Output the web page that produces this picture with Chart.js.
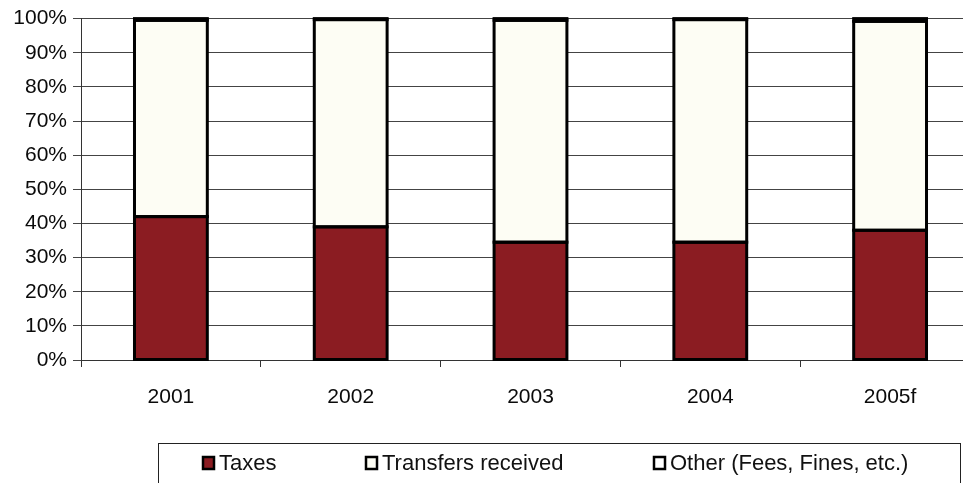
<!DOCTYPE html>
<html>
<head>
<meta charset="utf-8">
<script src="https://cdn.jsdelivr.net/npm/chart.js@4/dist/chart.umd.min.js"></script>
<style>
	html, body { margin: 0; padding: 0; background: #fff; overflow: hidden; }
	#wrap { width: 980px; height: 483px; }
</style>
</head>
<body>
<div id="wrap"><canvas id="chart" width="980" height="483"></canvas></div>
<script>
// revenue structure, share of total (%)
const years = ["2001", "2002", "2003", "2004", "2005f"];
const taxes = [42, 39, 34.5, 34.5, 38];
const other = [0.5, 0.3, 0.5, 0.3, 0.8];
const transfers = [57.5, 60.7, 65, 65.2, 61.2];
const yTicks = ["0%", "10%", "20%", "30%", "40%", "50%", "60%", "70%", "80%", "90%", "100%"];

const font = "'Liberation Sans', Arial, sans-serif";

// black outline on every stacked segment, centred on its edge
const outlines = {
	id: "outlines",
	afterDatasetsDraw(chart) {
		const ctx = chart.ctx;
		ctx.save();
		ctx.strokeStyle = "#000";
		ctx.lineWidth = 3;
		chart.data.datasets.forEach((ds, i) => {
			chart.getDatasetMeta(i).data.forEach((bar) => {
				const w = bar.width;
				ctx.strokeRect(bar.x - w / 2, bar.y, w, bar.base - bar.y);
			});
		});
		ctx.restore();
	},
};

// legend drawn by hand so the spacing matches the scan
const boxLegend = {
	id: "boxLegend",
	afterDraw(chart) {
		const ctx = chart.ctx;
		ctx.save();
		ctx.strokeStyle = "#222";
		ctx.lineWidth = 1;
		ctx.strokeRect(158.5, 443.5, 802, 60);
		const xs = [203, 366, 654];
		ctx.font = "22px " + font;
		ctx.textBaseline = "middle";
		chart.data.datasets.forEach((ds, i) => {
			ctx.fillStyle = ds.backgroundColor;
			ctx.fillRect(xs[i], 457, 11, 12);
			ctx.strokeStyle = "#000";
			ctx.lineWidth = 2.5;
			ctx.strokeRect(xs[i], 457, 11, 12);
			ctx.fillStyle = "#111";
			ctx.fillText(ds.label, xs[i] + 16, 464);
		});
		ctx.restore();
	},
};

new Chart(document.getElementById("chart"), {
	type: "bar",
	data: {
		labels: years,
		datasets: [
			{ label: "Taxes", data: taxes, backgroundColor: "#8b1c22" },
			{ label: "Transfers received", data: transfers, backgroundColor: "#fdfdf4" },
			{ label: "Other (Fees, Fines, etc.)", data: other, backgroundColor: "#ffffff" },
		].map((d) => Object.assign(d, {
			borderWidth: 0,
			categoryPercentage: 1,
			barPercentage: 0.405,
		})),
	},
	options: {
		responsive: false,
		animation: false,
		layout: { padding: { top: 18, right: 0, bottom: 0, left: 0 } },
		plugins: { legend: { display: false }, tooltip: { enabled: false } },
		scales: {
			x: {
				stacked: true,
				afterFit(s) { s.height = 123; },
				border: { color: "#333", width: 1 },
				grid: { drawOnChartArea: false, color: "#333", tickLength: 7, offset: true },
				ticks: { color: "#0a0a0a", padding: 18, font: { family: font, size: 21 } },
			},
			y: {
				stacked: true,
				min: 0,
				max: 100,
				afterFit(s) { s.width = 81; },
				border: { color: "#333", width: 1 },
				grid: { color: "#444", lineWidth: 1, tickLength: 8 },
				ticks: {
					stepSize: 10,
					color: "#0a0a0a",
					padding: 6,
					font: { family: font, size: 21 },
					callback: (v, i) => yTicks[i],
				},
			},
		},
	},
	plugins: [outlines, boxLegend],
});
</script>
</body>
</html>
